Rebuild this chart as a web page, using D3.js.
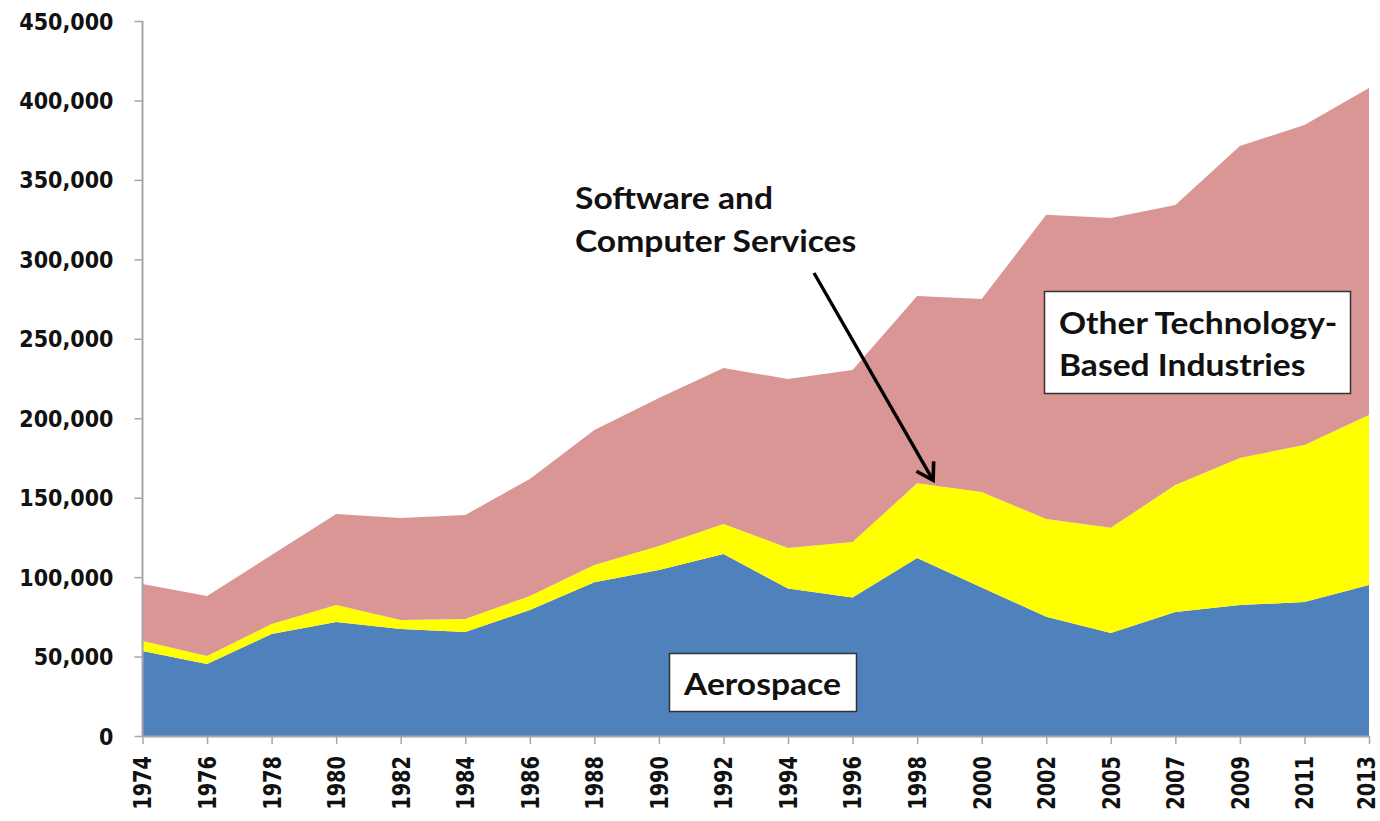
<!DOCTYPE html>
<html>
<head>
<meta charset="utf-8">
<script src="https://cdn.jsdelivr.net/npm/d3@7"></script>
<style>
  html, body { margin: 0; padding: 0; background: #fff; }
  svg { display: block; }
  .tick-label { font-family: "DejaVu Sans", Verdana, sans-serif; font-stretch: condensed; font-weight: bold; fill: #111; }
  .note { font-family: Lato, "Open Sans", sans-serif; font-weight: bold; fill: #111; }
</style>
</head>
<body>
<svg id="chart" width="1380" height="821"></svg>
<script>
// Employment by industry group, stacked
const years = ["1974","1976","1978","1980","1982","1984","1986","1988","1990","1992",
               "1994","1996","1998","2000","2002","2005","2007","2009","2011","2013"];
const aerospace = [53500,45300,64200,71700,67300,65500,79300,96800,104500,114500,
                   92800,87200,112000,93500,75000,64800,78000,82400,84300,95000];
const software  = [6300,5100,6300,10700,5700,8100,8800,10800,15100,19000,
                   25500,34900,47000,60100,61600,66200,80000,92600,98900,107000];
const otherTech = [35900,37700,43400,57300,64200,65500,73700,85000,93100,98100,
                   106400,108300,118000,121400,191400,195000,176200,196300,201400,205900];
const yTicks = [0,50000,100000,150000,200000,250000,300000,350000,400000,450000];

const seriesKeys = ["aerospace","software","other"];
const seriesColors = {aerospace: "#4F81BD", software: "#FFFF00", other: "#D99694"};

const rows = years.map((yr, i) => ({year: yr, aerospace: aerospace[i], software: software[i], other: otherTech[i]}));

const svg = d3.select("#chart");
const plot = {left: 142.5, right: 1369, top: 21, bottom: 736};

const x = d3.scalePoint().domain(years).range([plot.left, plot.right]);
const y = d3.scaleLinear().domain([0, 450000]).range([plot.bottom, plot.top]);

const stacked = d3.stack().keys(seriesKeys)(rows);
const area = d3.area()
  .x(d => x(d.data.year))
  .y0(d => y(d[0]))
  .y1(d => y(d[1]));

svg.append("g").selectAll("path")
  .data(stacked)
  .join("path")
  .attr("d", area)
  .attr("fill", d => seriesColors[d.key]);

// Axes
const axisColor = "#A6A6A6";
const yAxis = svg.append("g")
  .attr("transform", `translate(${plot.left},0)`)
  .call(d3.axisLeft(y).tickValues(yTicks).tickSize(8).tickPadding(21).tickFormat(d3.format(",")));
const xAxis = svg.append("g")
  .attr("transform", `translate(0,${plot.bottom})`)
  .call(d3.axisBottom(x).tickSize(8).tickSizeOuter(0));

[yAxis, xAxis].forEach(g => {
  g.select(".domain").attr("stroke", axisColor).attr("stroke-width", 2);
  g.selectAll(".tick line").attr("stroke", axisColor).attr("stroke-width", 1.5);
});
yAxis.select(".domain").attr("d", `M0,${plot.top}V${plot.bottom}`);
yAxis.selectAll(".tick text")
  .attr("class", "tick-label")
  .attr("font-size", 23)
  .attr("dy", "0.35em");

// Year labels read bottom-to-top, slightly widened; the last one is kept inside the frame
const lastYear = years[years.length - 1];
xAxis.selectAll(".tick text")
  .attr("class", "tick-label")
  .attr("font-size", 21.5)
  .attr("text-anchor", "end")
  .attr("transform", d => `translate(${d === lastYear ? -3 : -0.5},20) scale(1.15,1) rotate(-90)`)
  .attr("x", 0)
  .attr("y", 0)
  .attr("dy", "0.36em");

// Multi-line bold note, stretched a little horizontally
function note(tx, ty, lines, lh) {
  const t = svg.append("text")
    .attr("class", "note")
    .attr("font-size", 30)
    .attr("transform", `translate(${tx},${ty}) scale(1.12,1)`);
  lines.forEach((s, i) => t.append("tspan").attr("x", 0).attr("y", i * lh).text(s));
  return t;
}

// Annotation: software label with arrow
note(575, 209, ["Software and", "Computer Services"], 43);

const arrowEnd = {year: "1998", value: aerospace[12] + software[12]};
const ax1 = 814, ay1 = 273;
const ax2 = x(arrowEnd.year) + 16, ay2 = y(arrowEnd.value) - 3;
svg.append("line")
  .attr("x1", ax1).attr("y1", ay1)
  .attr("x2", ax2).attr("y2", ay2)
  .attr("stroke", "#000")
  .attr("stroke-width", 3.4);

// Open V arrowhead at the tip
const ang = Math.atan2(ay2 - ay1, ax2 - ax1);
const armLen = 19, spread = 0.55;
const arms = [ang + Math.PI - spread, ang + Math.PI + spread].map(a => [ax2 + armLen * Math.cos(a), ay2 + armLen * Math.sin(a)]);
svg.append("path")
  .attr("d", `M${arms[0][0]},${arms[0][1]} L${ax2},${ay2} L${arms[1][0]},${arms[1][1]}`)
  .attr("fill", "none")
  .attr("stroke", "#000")
  .attr("stroke-width", 3.6)
  .attr("stroke-linejoin", "miter");

// Boxed labels
function boxLabel(bx, by, bw, bh, lines, tx, ty, lh) {
  svg.append("rect")
    .attr("x", bx).attr("y", by).attr("width", bw).attr("height", bh)
    .attr("fill", "#fff").attr("stroke", "#333").attr("stroke-width", 1.5);
  note(tx, ty, lines, lh);
}
boxLabel(1044.5, 291.5, 306, 102, ["Other Technology-", "Based Industries"], 1059, 334, 42);
boxLabel(669.5, 653.5, 187, 58, ["Aerospace"], 684, 695, 0);
</script>
</body>
</html>
